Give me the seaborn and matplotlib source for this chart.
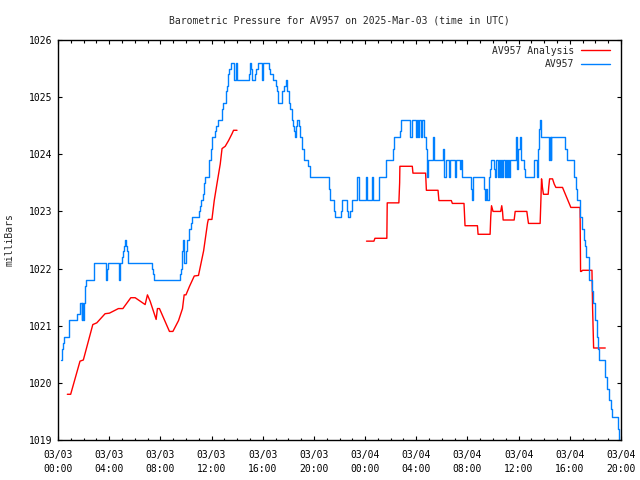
import matplotlib
matplotlib.use("Agg")
import matplotlib.pyplot as plt
import seaborn as sns
import pandas as pd
import numpy as np
from matplotlib.ticker import MultipleLocator, FixedLocator

# ---- data (hours since 2025-03-03 00:00 UTC) ----
blue_t = [0.25, 0.33, 0.40, 0.47, 0.85, 1.50, 1.70, 1.85, 1.90, 1.97, 2.02, 2.08, 2.13, 2.19,
          2.80, 3.72, 3.80, 3.86, 3.92, 4.76, 4.84, 5.04, 5.10, 5.18, 5.25, 5.32, 5.38, 5.48,
          7.36, 7.45, 7.52, 9.55, 9.62, 9.70, 9.78, 9.85, 10.00, 10.12, 10.26, 10.38, 10.50,
          11.03, 11.10, 11.20, 11.30, 11.40, 11.50, 11.80, 11.92, 12.00, 12.25, 12.38, 12.50,
          12.83, 12.92, 13.10, 13.18, 13.30, 13.40, 13.50, 13.78, 13.92, 13.99, 14.90, 14.98,
          15.08, 15.16, 15.38, 15.50, 15.62, 15.92, 16.02, 16.50, 16.60, 16.80, 17.03, 17.12,
          17.22, 17.50, 17.66, 17.80, 17.92, 18.02, 18.12, 18.25, 18.35, 18.45, 18.52, 18.62,
          18.70, 18.82, 18.92, 19.05, 19.22, 19.55, 19.70, 21.15, 21.28, 21.55, 21.66, 22.08,
          22.18, 22.55, 22.70, 22.84, 22.95, 23.40, 23.56, 24.08, 24.18, 24.52, 24.60, 25.12,
          25.65, 26.16, 26.26, 26.74, 26.80, 27.50, 27.68, 27.98, 28.06, 28.16, 28.24, 28.34,
          28.42, 28.64, 28.76, 28.84, 28.90, 29.28, 29.36, 30.06, 30.20, 30.32, 30.54, 30.62,
          31.04, 31.12, 31.45, 31.52, 31.58, 32.26, 32.32, 32.42, 33.30, 33.38, 33.48, 33.55,
          33.66, 33.74, 33.84, 34.10, 34.18, 34.26, 34.36, 34.44, 34.54, 34.62, 34.72, 34.80,
          34.90, 34.98, 35.10, 35.18, 35.28, 35.36, 35.80, 35.86, 35.92, 36.10, 36.18, 36.45,
          36.52, 37.18, 37.42, 37.50, 37.58, 37.65, 37.72, 38.36, 38.42, 38.50, 38.56, 39.65,
          39.76, 40.36, 40.48, 40.58, 40.82, 40.92, 41.10, 41.20, 41.30, 41.50, 41.76, 41.84,
          41.96, 42.10, 42.24, 42.30, 42.74, 42.90, 43.04, 43.18, 43.32, 43.76, 43.88, 43.95]
blue_v = [1020.4, 1020.6, 1020.7, 1020.8, 1021.1, 1021.2, 1021.4, 1021.1, 1021.4, 1021.1, 1021.4, 1021.5, 1021.7, 1021.8,
          1022.1, 1021.8, 1021.9, 1022.0, 1022.1, 1021.8, 1022.1, 1022.2, 1022.3, 1022.4, 1022.5, 1022.4, 1022.3, 1022.1,
          1022.0, 1021.9, 1021.8, 1021.9, 1022.0, 1022.3, 1022.5, 1022.1, 1022.3, 1022.5, 1022.7, 1022.8, 1022.9,
          1023.0, 1023.1, 1023.2, 1023.3, 1023.5, 1023.6, 1023.9, 1024.1, 1024.3, 1024.4, 1024.5, 1024.6,
          1024.8, 1024.9, 1025.1, 1025.2, 1025.4, 1025.5, 1025.6, 1025.3, 1025.6, 1025.3, 1025.4, 1025.6,
          1025.5, 1025.3, 1025.4, 1025.5, 1025.6, 1025.3, 1025.6, 1025.5, 1025.4, 1025.3, 1025.2, 1025.1,
          1024.9, 1025.1, 1025.2, 1025.3, 1025.1, 1024.9, 1024.8, 1024.6, 1024.5, 1024.4, 1024.3, 1024.5,
          1024.6, 1024.5, 1024.3, 1024.1, 1023.9, 1023.8, 1023.6, 1023.4, 1023.2, 1023.0, 1022.9, 1023.0,
          1023.2, 1023.0, 1022.9, 1023.0, 1023.2, 1023.6, 1023.2, 1023.6, 1023.2, 1023.6, 1023.2, 1023.6,
          1023.9, 1024.1, 1024.3, 1024.4, 1024.6, 1024.3, 1024.6, 1024.3, 1024.6, 1024.3, 1024.6, 1024.3,
          1024.6, 1024.3, 1024.1, 1023.6, 1023.9, 1024.3, 1023.9, 1024.1, 1023.6, 1023.9, 1023.6, 1023.9,
          1023.6, 1023.9, 1023.75, 1023.9, 1023.6, 1023.4, 1023.2, 1023.6, 1023.4, 1023.2, 1023.4, 1023.2,
          1023.6, 1023.75, 1023.9, 1023.75, 1023.6, 1023.9, 1023.6, 1023.9, 1023.6, 1023.9, 1023.6, 1023.9,
          1023.6, 1023.9, 1023.6, 1023.9, 1023.6, 1023.9, 1024.3, 1023.75, 1024.1, 1024.3, 1023.9, 1023.75,
          1023.6, 1023.9, 1023.6, 1024.1, 1024.45, 1024.6, 1024.3, 1023.9, 1024.3, 1023.9, 1024.3, 1024.1,
          1023.9, 1023.6, 1023.4, 1023.2, 1022.9, 1022.7, 1022.5, 1022.4, 1022.2, 1021.8, 1021.6, 1021.4,
          1021.1, 1020.8, 1020.6, 1020.4, 1020.1, 1019.9, 1019.7, 1019.55, 1019.4, 1019.2, 1019.0, 1019.0]

red1_t = [0.73, 0.99, 1.72, 1.98, 2.72, 3.03, 3.68, 4.02, 4.72, 5.07, 5.69, 6.03, 6.42, 6.81,
          6.99, 7.20, 7.67, 7.77, 7.93, 8.71, 8.98, 9.42, 9.73, 9.86, 10.00, 10.28, 10.65, 10.98,
          11.38, 11.69, 11.75, 12.03, 12.21, 12.42, 12.68, 12.82, 13.07, 13.33, 13.60, 13.72, 13.99]
red1_v = [1019.80, 1019.80, 1020.38, 1020.40, 1021.02, 1021.05, 1021.21, 1021.22, 1021.30, 1021.30,
          1021.49, 1021.49, 1021.43, 1021.37, 1021.54, 1021.43, 1021.11, 1021.30, 1021.30, 1020.90,
          1020.90, 1021.09, 1021.30, 1021.54, 1021.54, 1021.69, 1021.87, 1021.88, 1022.31, 1022.80,
          1022.86, 1022.86, 1023.19, 1023.48, 1023.83, 1024.10, 1024.14, 1024.24, 1024.36, 1024.42, 1024.42]

red2_t = [24.11, 24.69, 24.77, 25.70, 25.73, 26.64, 26.70, 26.72, 27.69, 27.74, 28.73, 28.79, 29.70,
          29.77, 30.74, 30.82, 31.73, 31.81, 32.78, 32.83, 33.77, 33.82, 33.88, 34.00, 34.60, 34.68,
          34.74, 34.79, 35.65, 35.73, 36.64, 36.70, 36.77, 37.68, 37.74, 37.79, 37.86, 37.94, 38.31,
          38.35, 38.42, 38.65, 38.78, 38.91, 39.43, 40.08, 40.80, 40.84, 40.90, 41.00, 41.73, 41.78,
          41.86, 42.77]
red2_v = [1022.48, 1022.48, 1022.53, 1022.53, 1023.15, 1023.15, 1023.50, 1023.79, 1023.79, 1023.67,
          1023.67, 1023.37, 1023.37, 1023.19, 1023.19, 1023.14, 1023.14, 1022.75, 1022.75, 1022.60,
          1022.60, 1022.90, 1023.10, 1023.00, 1023.00, 1023.10, 1023.00, 1022.85, 1022.85, 1023.00,
          1023.00, 1022.90, 1022.79, 1022.79, 1023.20, 1023.57, 1023.42, 1023.30, 1023.30, 1023.42,
          1023.57, 1023.57, 1023.48, 1023.42, 1023.42, 1023.07, 1023.07, 1021.95, 1021.95, 1021.97,
          1021.97, 1021.31, 1020.61, 1020.61]

tick_hours = [0, 4, 8, 12, 16, 20, 24, 28, 32, 36, 40, 44]
tick_labels = ["03/03\n00:00", "03/03\n04:00", "03/03\n08:00", "03/03\n12:00", "03/03\n16:00",
               "03/03\n20:00", "03/04\n00:00", "03/04\n04:00", "03/04\n08:00", "03/04\n12:00",
               "03/04\n16:00", "03/04\n20:00"]
y_ticks = [1019, 1020, 1021, 1022, 1023, 1024, 1025, 1026]

RED = "#ff0000"
BLUE = "#0080ff"

sns.set_style("white")
plt.rcParams["font.family"] = ["DejaVu Sans Mono", "DejaVu Sans"]
plt.rcParams["font.size"] = 7

fig = plt.figure(figsize=(6.4, 4.8), dpi=100)
ax = fig.add_axes([58 / 640, 1 - 440 / 480, (621 - 58) / 640, (440 - 40) / 480])

blue_df = pd.DataFrame({"t": blue_t, "p": blue_v})
red1_df = pd.DataFrame({"t": red1_t, "p": red1_v})
red2_df = pd.DataFrame({"t": red2_t, "p": red2_v})

sns.lineplot(data=red1_df, x="t", y="p", ax=ax, color=RED, lw=1.0, estimator=None, sort=False,
             label="AV957 Analysis")
sns.lineplot(data=red2_df, x="t", y="p", ax=ax, color=RED, lw=1.0, estimator=None, sort=False)
sns.lineplot(data=blue_df, x="t", y="p", ax=ax, color=BLUE, lw=1.0, estimator=None, sort=False,
             drawstyle="steps-post", label="AV957")

ax.set_xlim(0, 44)
ax.set_ylim(1019, 1026)
ax.xaxis.set_major_locator(FixedLocator(tick_hours))
ax.set_xticklabels(tick_labels, linespacing=1.45)
ax.xaxis.set_minor_locator(MultipleLocator(1))
ax.set_yticks(y_ticks)
ax.set_yticklabels([str(v) for v in y_ticks])
ax.tick_params(which="both", direction="in", top=True, right=True, bottom=True, left=True,
               colors="black", labelsize=7, width=0.8)
ax.tick_params(which="major", length=3.2)
ax.tick_params(which="minor", length=1.8)
ax.tick_params(axis="y", pad=4.3)
ax.tick_params(axis="x", pad=7.5)
for s in ax.spines.values():
    s.set_color("black")
    s.set_linewidth(1.0)
ax.set_xlabel("")
ax.set_ylabel("milliBars", fontsize=7, labelpad=10)
ax.set_title("Barometric Pressure for AV957 on 2025-Mar-03 (time in UTC)", fontsize=7, pad=12)

leg = ax.legend(loc="upper right", bbox_to_anchor=(0.988, 0.995), frameon=False, markerfirst=False,
                handlelength=3.0, handletextpad=0.7, labelspacing=0.35, borderaxespad=0, fontsize=7)

fig.savefig("out.png", dpi=100, facecolor="white")
